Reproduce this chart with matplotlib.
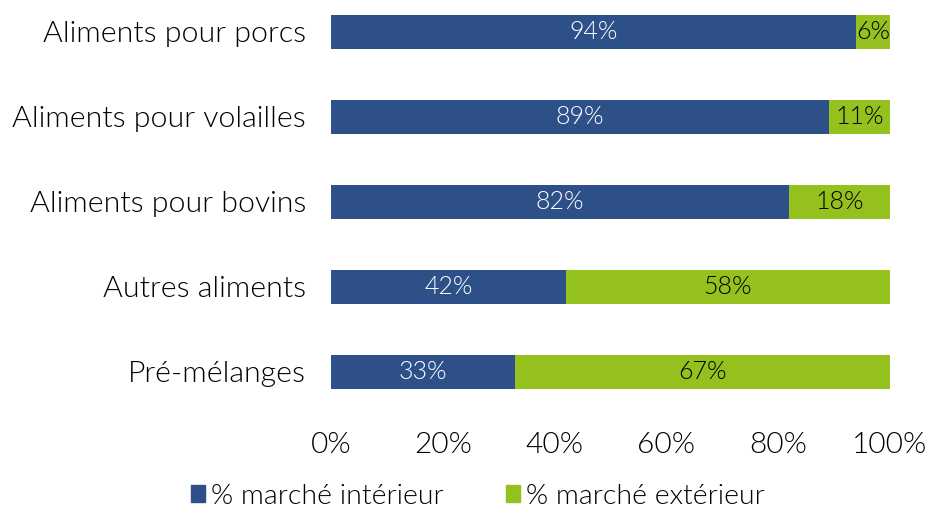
import matplotlib
matplotlib.use("Agg")
import matplotlib.pyplot as plt
from matplotlib.patches import Patch

plt.rcParams['font.family'] = ['Lato', 'DejaVu Sans']
plt.rcParams['font.weight'] = 300

categories = ["Aliments pour porcs", "Aliments pour volailles", "Aliments pour bovins",
              "Autres aliments", "Pré-mélanges"]
interieur = [94, 89, 82, 42, 33]
exterieur = [6, 11, 18, 58, 67]
series_names = ["% marché intérieur", "% marché extérieur"]
xticks = [0, 20, 40, 60, 80, 100]

BLUE = "#2E5089"
GREEN = "#95C11F"
TXT = "black"

fig = plt.figure(figsize=(9.28, 5.09), dpi=100)
ax = fig.add_axes([331 / 928, 1 - 400 / 509, 559 / 928, 395 / 509])

pos = list(range(len(categories)))
ax.barh(pos, interieur, height=0.4, color=BLUE)
ax.barh(pos, exterieur, left=interieur, height=0.4, color=GREEN)

# value labels in the middle of each segment
for i in pos:
    ax.text(interieur[i] / 2, i, f"{interieur[i]}%", ha="center", va="center",
            color="white", fontsize=18)
    ax.text(interieur[i] + exterieur[i] / 2, i, f"{exterieur[i]}%", ha="center", va="center",
            color=TXT, fontsize=18)

ax.set_xlim(0, 100)
ax.set_ylim(4 + 28 / 85, -27 / 85)
ax.set_yticks(pos)
ax.set_yticklabels(categories, fontsize=21.8, color=TXT)
ax.set_xticks(xticks)
ax.set_xticklabels([f"{t}%" for t in xticks], fontsize=21.5, color=TXT)
ax.tick_params(length=0)
ax.tick_params(axis="y", pad=18)
ax.tick_params(axis="x", pad=23)
for s in ax.spines.values():
    s.set_visible(False)

handles = [Patch(color=BLUE), Patch(color=GREEN)]
fig.legend(handles, series_names, loc="center", bbox_to_anchor=(478 / 928, 1 - 496 / 509),
           ncol=2, frameon=False, fontsize=20.5, handlelength=0.5, handleheight=0.5,
           handletextpad=0.2, columnspacing=2.2)

fig.savefig("out.png", dpi=100)
